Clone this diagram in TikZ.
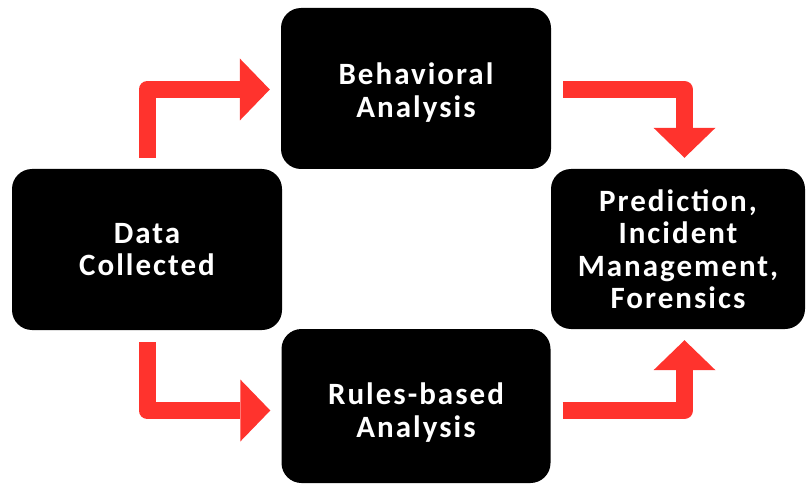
\documentclass[tikz,border=0pt]{standalone}
\usepackage{fontspec}
\setmainfont{Carlito}[LetterSpace=6.5]
\usetikzlibrary{arrows.meta}
\definecolor{arrowred}{RGB}{255,51,45}
\tikzset{
  box/.style={fill=black, rounded corners=20pt, inner sep=0pt},
  boxtext/.style={inner sep=0pt, text=white, align=center,
    font=\bfseries\fontsize{31}{32.5}\selectfont},
  bent/.style={draw=arrowred, line width=17pt, line join=round,
    -{Triangle[length=30pt,width=62pt,line width=0pt]}}
}
\begin{document}
\begin{tikzpicture}[x=1pt,y=-1pt]
\useasboundingbox (0,0) rectangle (806,484);
\node[box, minimum width=270pt, minimum height=161pt] (data) at (147,249.5) {};
\node[box, minimum width=270pt, minimum height=161pt] (behav) at (416,88.5) {};
\node[box, minimum width=269pt, minimum height=154pt] (rules) at (416,406) {};
\node[box, minimum width=254pt, minimum height=160pt] (pred) at (678,249) {};
\node[boxtext] (datat) at (data.center) {Data\\Collected};
\node[boxtext] (behavt) at ([yshift=-4pt]behav.center) {Behavioral\\Analysis};
\node[boxtext] (rulest) at ([yshift=-6.5pt]rules.center) {Rules-based\\Analysis};
\node[boxtext] (predt) at (pred.center) {Prediction,\\Incident\\Management,\\Forensics};
\coordinate (a1s) at ([yshift=11pt]data.north);
\coordinate (a1t) at ([xshift=-11pt,yshift=-1pt]behav.west);
\coordinate (a2s) at ([xshift=12pt,yshift=-1pt]behav.east);
\coordinate (a2t) at ([xshift=6.5pt,yshift=11pt]pred.north);
\coordinate (a3s) at ([yshift=-12pt]data.south);
\coordinate (a3t) at ([xshift=-11pt,yshift=-4.5pt]rules.west);
\coordinate (a4s) at ([xshift=12pt,yshift=-4.5pt]rules.east);
\coordinate (a4t) at ([xshift=6.5pt,yshift=-11pt]pred.south);
\draw[bent] (a1s) |- (a1t);
\draw[bent] (a2s) -| (a2t);
\draw[bent] (a3s) |- (a3t);
\draw[bent] (a4s) -| (a4t);
\end{tikzpicture}
\end{document}
